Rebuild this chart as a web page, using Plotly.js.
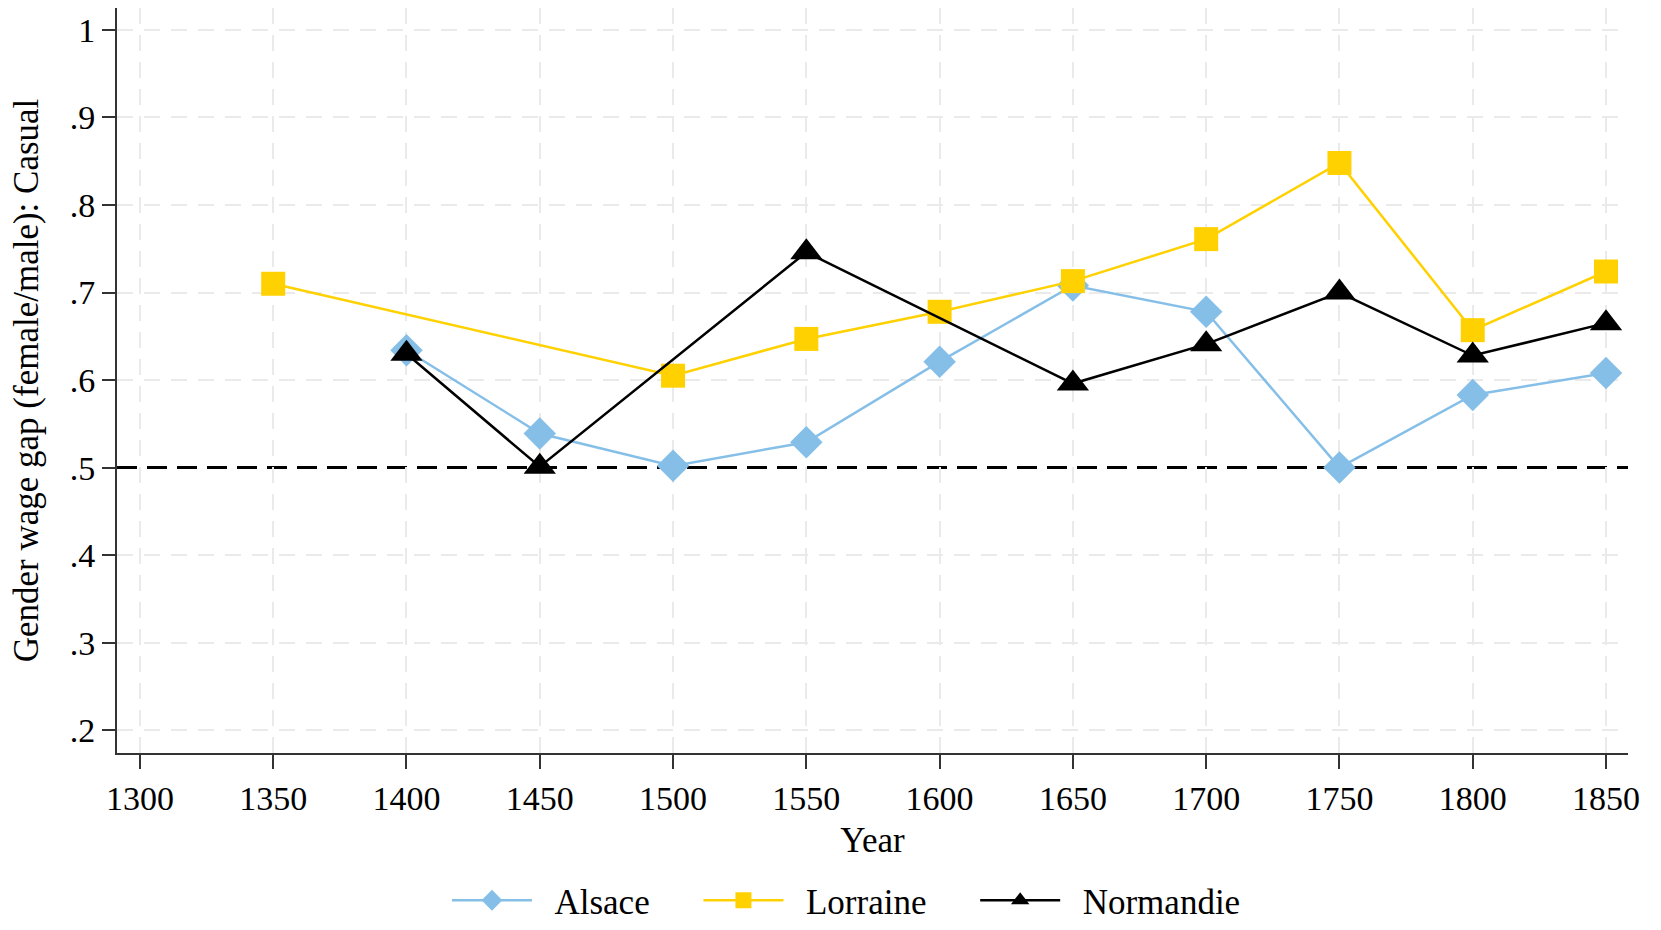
<!DOCTYPE html>
<html>
<head>
<meta charset="utf-8">
<script src="https://cdn.plot.ly/plotly-3.0.1.min.js"></script>
<style>html,body{margin:0;padding:0;background:#fff;}#chart{width:1661px;height:930px;}</style>
</head>
<body>
<div id="chart"></div>
<script>
// Data
const years = [1350, 1400, 1450, 1500, 1550, 1600, 1650, 1700, 1750, 1800, 1850];
const alsace    = [null, 0.634, 0.539, 0.502, 0.529, 0.621, 0.708, 0.678, 0.500, 0.583, 0.608];
const lorraine  = [0.710, null, null, 0.605, 0.647, 0.678, 0.713, 0.761, 0.848, 0.657, 0.724];
const normandie = [null, 0.630, 0.501, null, 0.746, null, 0.596, 0.641, 0.700, 0.628, 0.665];
const seriesNames = ['Alsace', 'Lorraine', 'Normandie'];
const referenceLevel = 0.5;
const xTickVals = [1300, 1350, 1400, 1450, 1500, 1550, 1600, 1650, 1700, 1750, 1800, 1850];
const yTickVals = [0.2, 0.3, 0.4, 0.5, 0.6, 0.7, 0.8, 0.9, 1.0];
const yTickText = ['.2', '.3', '.4', '.5', '.6', '.7', '.8', '.9', '1'];
const yGridVals = [0.2, 0.3, 0.4, 0.6, 0.7, 0.8, 0.9, 1.0];

const FONT = '"Liberation Serif", "Times New Roman", serif';
const NB = '\u00A0';
const Y_RANGE = [0.174, 1.025];

function series(name, vals, color, symbol, size, width, yax) {
  return {
    type: 'scatter', mode: 'lines+markers',
    name: NB + NB + name + NB.repeat(5),
    x: years, y: vals, connectgaps: true, yaxis: yax,
    line: {color: color, width: width},
    marker: {color: color, symbol: symbol, size: size}
  };
}

const traces = [
  series(seriesNames[0], alsace, '#85BFE8', 'diamond', 25, 2.5, 'y'),
  series(seriesNames[1], lorraine, '#FFD100', 'square', 24, 2.5, 'y'),
  series(seriesNames[2], normandie, '#000000', 'triangle-up', 28, 2.5, 'y2')
];

const layout = {
  width: 1661, height: 930,
  paper_bgcolor: '#ffffff', plot_bgcolor: '#ffffff',
  font: {family: FONT, size: 34, color: '#000'},
  margin: {l: 117, r: 33, t: 8, b: 177},
  showlegend: true,
  legend: {
    orientation: 'h', x: 0.497, xanchor: 'center',
    yref: 'container', y: -0.0054, yanchor: 'bottom',
    font: {family: FONT, size: 35, color: '#000'}, itemwidth: 80,
    bgcolor: 'rgba(0,0,0,0)', traceorder: 'normal'
  },
  xaxis: {
    range: [1291.4, 1858.25], tickmode: 'array', tickvals: xTickVals,
    ticks: 'outside', ticklen: 14, tickwidth: 2, tickcolor: '#333',
    showline: true, linecolor: '#333', linewidth: 2, mirror: false,
    showgrid: true, gridcolor: '#EAEAEA', gridwidth: 2, griddash: '16px,11px',
    zeroline: false, tickfont: {family: FONT, size: 34, color: '#000'},
    title: {text: 'Year', font: {family: FONT, size: 35, color: '#000'}, standoff: 12}
  },
  yaxis: {
    range: Y_RANGE, tickmode: 'array', tickvals: yTickVals, ticktext: yTickText,
    ticks: 'outside', ticklen: 13, tickwidth: 2, tickcolor: '#333',
    showline: true, linecolor: '#333', linewidth: 2, mirror: false,
    showgrid: false, zeroline: false, tickfont: {family: FONT, size: 34, color: '#000'},
    title: {text: 'Gender wage gap (female/male): Casual', font: {family: FONT, size: 35, color: '#000'}, standoff: 20}
  },
  yaxis2: {
    overlaying: 'y', anchor: 'x', side: 'left', range: Y_RANGE,
    tickmode: 'array', tickvals: yGridVals, showticklabels: false, ticks: '',
    showline: false, zeroline: false,
    showgrid: true, gridcolor: '#EAEAEA', gridwidth: 2, griddash: '16px,11px'
  },
  shapes: [{
    type: 'line', xref: 'paper', x0: 0, x1: 1, yref: 'y', y0: referenceLevel, y1: referenceLevel,
    line: {color: '#000', width: 3, dash: '20px,10px'}, layer: 'between'
  }]
};

Plotly.newPlot('chart', traces, layout, {displayModeBar: false, staticPlot: true});
</script>
</body>
</html>
